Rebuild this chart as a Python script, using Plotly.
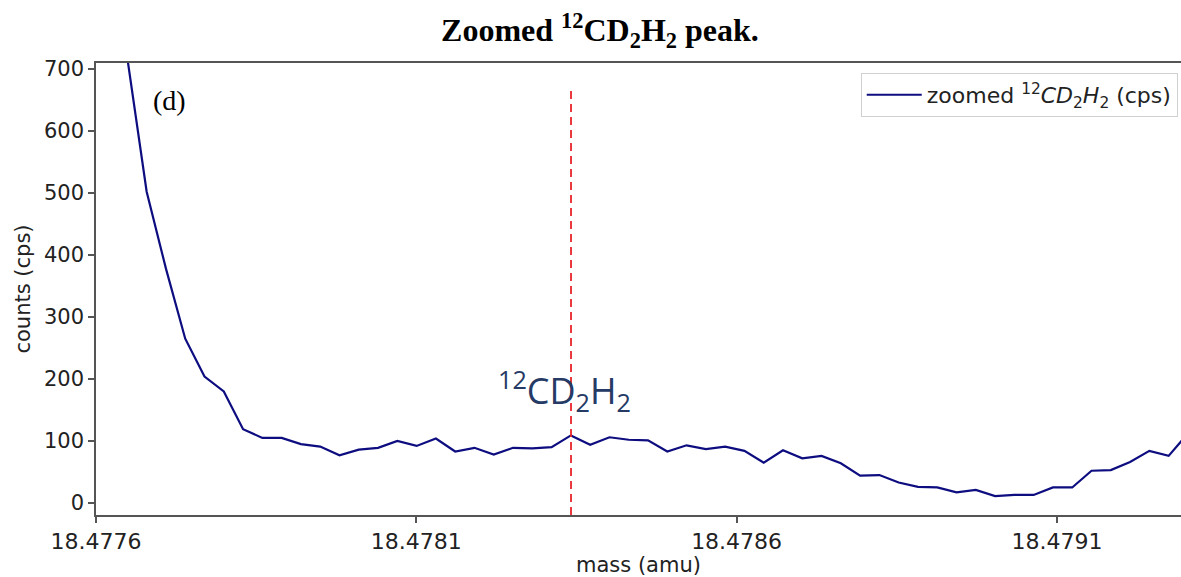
import plotly.graph_objects as go

# ---- data ----
mass_amu = [
    18.4776189, 18.4776490, 18.4776791, 18.4777092, 18.4777393, 18.4777694,
    18.4777995, 18.4778296, 18.4778597, 18.4778898, 18.4779199, 18.4779500,
    18.4779801, 18.4780102, 18.4780403, 18.4780704, 18.4781005, 18.4781306,
    18.4781607, 18.4781908, 18.4782209, 18.4782510, 18.4782811, 18.4783112,
    18.4783413, 18.4783714, 18.4784015, 18.4784316, 18.4784617, 18.4784918,
    18.4785219, 18.4785520, 18.4785821, 18.4786122, 18.4786423, 18.4786724,
    18.4787025, 18.4787326, 18.4787627, 18.4787928, 18.4788229, 18.4788530,
    18.4788831, 18.4789132, 18.4789433, 18.4789734, 18.4790035, 18.4790336,
    18.4790637, 18.4790938, 18.4791239, 18.4791540, 18.4791841, 18.4792142,
    18.4792443, 18.4792744, 18.4793045,
]
counts_cps = [
    1000, 717, 502, 378, 265, 204, 180, 119, 105, 105, 95, 91,
    77, 86, 89, 100, 92, 104, 83, 89, 78, 89, 88, 90,
    109, 94, 106, 102, 101, 83, 93, 87, 91, 84, 65, 85,
    72, 76, 64, 44, 45, 33, 26, 25, 17, 21, 11, 13,
    13, 25, 25, 52, 53, 66, 84, 76, 112,
]
peak_mass = 18.4783415
peak_line_y = [-19.4, 666]

x_tickvals = [18.4776, 18.4781, 18.4786, 18.4791]
x_ticktext = ["18.4776", "18.4781", "18.4786", "18.4791"]
y_tickvals = [0, 100, 200, 300, 400, 500, 600, 700]
y_ticktext = ["0", "100", "200", "300", "400", "500", "600", "700"]

x_range = [18.4776, 18.4792937]
y_range = [-19.4, 709.7]

fig = go.Figure()
fig.add_trace(go.Scatter(
    x=mass_amu, y=counts_cps, mode="lines",
    line=dict(color="#0d0d80", width=2.2),
    name="zoomed <sup>12</sup><i>CD</i><sub>2</sub><i>H</i><sub>2</sub> (cps)",
))
fig.add_trace(go.Scatter(
    x=[peak_mass, peak_mass], y=peak_line_y, mode="lines",
    line=dict(color="#e8242b", width=1.8, dash="8px,5px"),
    showlegend=False, hoverinfo="skip",
))

fig.update_layout(
    width=1181, height=577,
    margin=dict(l=96, r=0, t=63, b=62, autoexpand=False),
    paper_bgcolor="white", plot_bgcolor="white",
    font=dict(family="DejaVu Sans", size=20, color="#222222"),
    title=dict(
        text="Zoomed <sup>12</sup>CD<sub>2</sub>H<sub>2</sub> peak.",
        x=0.508, xanchor="center", y=0.948, yanchor="middle",
        font=dict(family="Liberation Serif", size=32, color="black", weight="bold"),
    ),
    showlegend=True,
    legend=dict(
        x=0.997, xanchor="right", y=0.978, yanchor="top",
        bgcolor="white", bordercolor="#d0d0d0", borderwidth=1,
        font=dict(family="DejaVu Sans", size=22, color="#222222"),
        itemwidth=55,
    ),
)
fig.update_xaxes(
    range=x_range, tickvals=x_tickvals, ticktext=x_ticktext,
    showgrid=False, zeroline=False, automargin=False,
    showline=True, linecolor="#555555", linewidth=1.5, mirror=True,
    ticks="outside", ticklen=6, tickwidth=1.5, tickcolor="#555555",
    tickfont=dict(size=22),
    title=dict(text="mass (amu)", font=dict(size=21), standoff=2),
)
fig.update_yaxes(
    range=y_range, tickvals=y_tickvals, ticktext=y_ticktext,
    showgrid=False, zeroline=False, automargin=False,
    showline=True, linecolor="#555555", linewidth=1.5, mirror=True,
    ticks="outside", ticklen=6, tickwidth=1.5, tickcolor="#555555",
    tickfont=dict(size=21),
    title=dict(text="counts (cps)", font=dict(size=21), standoff=8),
)

fig.add_annotation(
    text="(d)", xref="paper", yref="paper", x=0.068, y=0.918,
    xanchor="center", yanchor="middle",
    showarrow=False, font=dict(family="Liberation Serif", size=28, color="black"),
)
fig.add_annotation(
    text="<sup>12</sup>CD<sub>2</sub>H<sub>2</sub>", xref="x", yref="y",
    x=18.478332, y=182, showarrow=False,
    font=dict(family="Open Sans", size=36, color="#263a66"),
)

fig.write_html(
    "out.html",
    config={"displayModeBar": False},
    post_script="document.body.style.margin='0';document.body.style.overflow='hidden';",
)
